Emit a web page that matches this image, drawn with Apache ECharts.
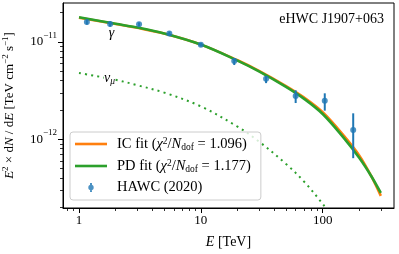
<!DOCTYPE html>
<html><head><meta charset="utf-8">
<script src="https://cdn.jsdelivr.net/npm/echarts@6/dist/echarts.min.js"></script>
<style>html,body{margin:0;padding:0;background:#fff}#c{width:399px;height:254px}</style>
</head><body><div id="c"></div>
<script>
// HAWC (2020) data points
const hawcE  = [1.16, 1.80, 3.11, 5.51, 10.0, 18.8, 34.3, 60.0, 104, 178];
const hawcF  = [1.61e-11, 1.53e-11, 1.52e-11, 1.22e-11, 9.38e-12, 6.38e-12, 4.20e-12, 2.79e-12, 2.49e-12, 1.25e-12];
const hawcLo = [1.51e-11, 1.44e-11, 1.45e-11, 1.16e-11, 9.00e-12, 5.80e-12, 3.78e-12, 2.36e-12, 1.97e-12, 6.40e-13];
const hawcHi = [1.70e-11, 1.63e-11, 1.59e-11, 1.28e-11, 9.80e-12, 6.85e-12, 4.48e-12, 3.19e-12, 2.97e-12, 1.85e-12];
// fit curves (E^2 dN/dE, TeV cm^-2 s^-1)
const fitE = [1, 2, 3, 5, 10, 20, 30, 50, 70, 100, 150, 200, 250, 300];
const icF  = [1.78e-11, 1.53e-11, 1.40e-11, 1.22e-11, 9.40e-12, 6.50e-12, 5.06e-12, 3.53e-12, 2.70e-12, 1.90e-12, 1.08e-12, 6.80e-13, 4.20e-13, 2.62e-13];
const pdF  = [1.795e-11, 1.538e-11, 1.41e-11, 1.226e-11, 9.43e-12, 6.44e-12, 4.99e-12, 3.46e-12, 2.62e-12, 1.82e-12, 1.023e-12, 6.43e-13, 4.20e-13, 2.81e-13];
// muon neutrino curve
const nuE = [1, 2, 3, 5, 10, 20, 30, 50, 70, 100, 150];
const nuF = [4.80e-12, 4.09e-12, 3.60e-12, 3.02e-12, 2.18e-12, 1.35e-12, 9.48e-13, 5.59e-13, 3.70e-13, 2.17e-13, 1.11e-13];
// ticks
const xMajor = [1, 10, 100];
const xMinor = [0.8, 0.9, 2, 3, 4, 5, 6, 7, 8, 9, 20, 30, 40, 50, 60, 70, 80, 90, 200, 300];
const yMajor = [1e-12, 1e-11];
const yMinor = [2e-13, 3e-13, 4e-13, 5e-13, 6e-13, 7e-13, 8e-13, 9e-13, 2e-12, 3e-12, 4e-12, 5e-12, 6e-12, 7e-12, 8e-12, 9e-12, 2e-11];

const FONT = '"Liberation Serif", "DejaVu Serif", serif';
const X_MIN = 0.739, X_MAX = 384.8, Y_MIN = 1.968e-13, Y_MAX = 2.518e-11;

const chart = echarts.init(document.getElementById('c'), null, {renderer: 'canvas'});
const supRich = {
  b: {fontFamily: FONT, fontSize: 13, color: '#000', lineHeight: 22},
  s: {fontFamily: FONT, fontSize: 9, color: '#000', verticalAlign: 'top'}
};
const legRich = {
  a: {fontFamily: FONT, fontSize: 14.5, color: '#000', lineHeight: 16},
  i: {fontFamily: FONT, fontSize: 14.5, color: '#000', fontStyle: 'italic', lineHeight: 16},
  sup: {fontFamily: FONT, fontSize: 9.5, color: '#000', verticalAlign: 'top'},
  sub: {fontFamily: FONT, fontSize: 9.5, color: '#000', verticalAlign: 'bottom'}
};
const legendText = {
  'IC fit': '{a|IC fit (}{i|χ}{sup|2}{a|/}{i|N}{sub|dof}{a| = 1.096)}',
  'PD fit': '{a|PD fit (}{i|χ}{sup|2}{a|/}{i|N}{sub|dof}{a| = 1.177)}',
  'HAWC (2020)': '{a|HAWC (2020)}'
};
const errIcon = 'path://M0 0 M32 14 M15 2.5 H17 V11.5 H15 Z M18.7 7 A2.7 2.7 0 1 1 13.3 7 A2.7 2.7 0 1 1 18.7 7 Z';
const lineIcon = 'path://M0 0 M32 14 M0 5.7 H32 V8.3 H0 Z';

function xAxisBase(extra) {
  return Object.assign({
    type: 'log', logBase: 10, min: X_MIN, max: X_MAX, gridIndex: 0, position: 'bottom',
    splitLine: {show: false}, minorTick: {show: false}
  }, extra);
}
function yAxisBase(extra) {
  return Object.assign({
    type: 'log', logBase: 10, min: Y_MIN, max: Y_MAX, gridIndex: 0, position: 'left',
    splitLine: {show: false}, minorTick: {show: false}
  }, extra);
}

chart.setOption({
  animation: false,
  backgroundColor: '#fff',
  grid: {left: 63, right: 5, top: 3, bottom: 46, show: true, borderColor: '#000', borderWidth: 1,
    backgroundColor: 'transparent', containLabel: false, outerBoundsMode: 'none'},
  xAxis: [
    xAxisBase({
      name: '{i|E}{a| [TeV]}', nameLocation: 'middle', nameGap: 27,
      nameTextStyle: {rich: {
        i: {fontFamily: FONT, fontSize: 14, fontStyle: 'italic', color: '#000'},
        a: {fontFamily: FONT, fontSize: 14, color: '#000'}}},
      axisLine: {show: true, lineStyle: {color: '#000', width: 1}},
      axisTick: {show: true, inside: false, length: 5, lineStyle: {color: '#000', width: 1}, customValues: xMajor},
      axisLabel: {show: true, margin: 6, fontFamily: FONT, fontSize: 13, color: '#000', customValues: xMajor,
        formatter: v => String(Math.round(v))}
    }),
    xAxisBase({
      axisLine: {show: false},
      axisTick: {show: true, inside: false, length: 3, lineStyle: {color: '#000', width: 0.8}, customValues: xMinor},
      axisLabel: {show: false}
    })
  ],
  yAxis: [
    yAxisBase({
      name: '{i|E}{sup|2}{a| × d}{i|N}{a| / d}{i|E}{a| [TeV cm}{sup|−2}{a| s}{sup|−1}{a|]}',
      nameLocation: 'middle', nameGap: 44, nameRotate: 90,
      nameTextStyle: {rich: {
        a: {fontFamily: FONT, fontSize: 13, color: '#000', lineHeight: 18},
        i: {fontFamily: FONT, fontSize: 13, color: '#000', fontStyle: 'italic', lineHeight: 18},
        sup: {fontFamily: FONT, fontSize: 9, color: '#000', verticalAlign: 'top'}}},
      axisLine: {show: true, lineStyle: {color: '#000', width: 1}},
      axisTick: {show: true, inside: false, length: 5, lineStyle: {color: '#000', width: 1}, customValues: yMajor},
      axisLabel: {show: true, margin: 6, customValues: yMajor, rich: supRich,
        formatter: v => '{b|10}{s|−' + Math.abs(Math.round(Math.log10(v))) + '}'}
    }),
    yAxisBase({
      axisLine: {show: false},
      axisTick: {show: true, inside: false, length: 3, lineStyle: {color: '#000', width: 0.8}, customValues: yMinor},
      axisLabel: {show: false}
    })
  ],
  legend: {
    orient: 'vertical', left: 70, top: 132,
    padding: [4, 10, 5, 5], itemGap: 6, itemWidth: 32, itemHeight: 14,
    backgroundColor: 'rgba(255,255,255,0.8)', borderColor: '#cccccc', borderWidth: 1, borderRadius: 3,
    data: [
      {name: 'IC fit', icon: lineIcon, itemStyle: {color: '#ff7f0e'}},
      {name: 'PD fit', icon: lineIcon, itemStyle: {color: '#2ca02c'}},
      {name: 'HAWC (2020)', icon: errIcon, itemStyle: {color: '#1f77b4'}}],
    formatter: name => legendText[name],
    textStyle: {rich: legRich, padding: [0, 0, 0, 5]},
    selectedMode: false, z: 10
  },
  graphic: [
    {type: 'text', x: 384, y: 19, z: 20, style: {text: 'eHWC J1907+063', font: '14px ' + FONT, fill: '#000', align: 'right', verticalAlign: 'middle'}},
    {type: 'text', x: 111.5, y: 33, z: 20, style: {text: 'γ', font: 'italic 14px ' + FONT, fill: '#000', align: 'center', verticalAlign: 'middle'}},
    {type: 'text', x: 104, y: 78, z: 20, style: {
      text: '{n|ν}{m|μ}', fill: '#000', align: 'left', verticalAlign: 'middle', backgroundColor: '#fff',
      rich: {n: {font: 'italic 14px ' + FONT, fill: '#000', lineHeight: 16},
             m: {font: 'italic 9.5px ' + FONT, fill: '#000', verticalAlign: 'bottom'}}}}
  ],
  series: [
    {name: 'IC fit', type: 'line', xAxisIndex: 0, yAxisIndex: 0, data: fitE.map((e, i) => [e, icF[i]]),
      showSymbol: false, symbol: 'none', smooth: 0.35, color: '#ff7f0e', lineStyle: {color: '#ff7f0e', width: 2.6}, z: 2},
    {name: 'PD fit', type: 'line', xAxisIndex: 0, yAxisIndex: 0, data: fitE.map((e, i) => [e, pdF[i]]),
      showSymbol: false, symbol: 'none', smooth: 0.35, color: '#2ca02c', lineStyle: {color: '#2ca02c', width: 2.6}, z: 3},
    {name: 'nu', type: 'line', xAxisIndex: 0, yAxisIndex: 0, data: nuE.map((e, i) => [e, nuF[i]]),
      showSymbol: false, symbol: 'none', smooth: 0.35, color: '#2ca02c',
      lineStyle: {color: '#2ca02c', width: 2, type: [2, 4.2], cap: 'butt'}, z: 2},
    {name: 'HAWC err', type: 'custom', xAxisIndex: 0, yAxisIndex: 0,
      data: hawcE.map((e, i) => [e, hawcLo[i], hawcHi[i]]),
      encode: {x: 0, y: [1, 2]},
      renderItem: (params, api) => {
        const p1 = api.coord([api.value(0), api.value(1)]);
        const p2 = api.coord([api.value(0), api.value(2)]);
        return {type: 'line', shape: {x1: p1[0], y1: p1[1], x2: p2[0], y2: p2[1]},
          style: {stroke: '#1f77b4', lineWidth: 2}};
      }, z: 4},
    {name: 'HAWC (2020)', type: 'scatter', xAxisIndex: 0, yAxisIndex: 0, data: hawcE.map((e, i) => [e, hawcF[i]]),
      symbol: 'circle', symbolSize: 6, color: '#1f77b4', itemStyle: {color: '#1f77b4'}, z: 5}
  ]
});
</script></body></html>
